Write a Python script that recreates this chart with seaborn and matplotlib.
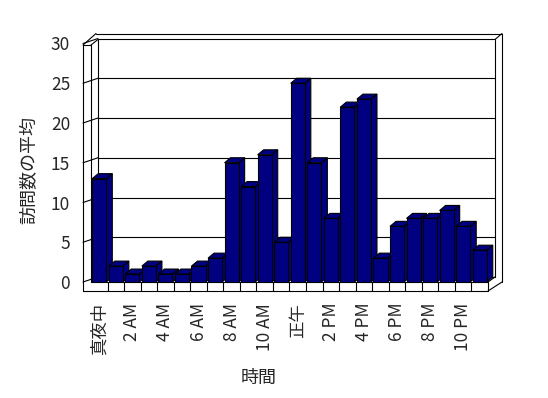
import numpy as np
import pandas as pd
import seaborn as sns
import matplotlib.pyplot as plt
from matplotlib.lines import Line2D
from matplotlib.patches import Polygon
from matplotlib.transforms import IdentityTransform

# 時間ごとの訪問数の平均
hours = ['真夜中', '1 AM', '2 AM', '3 AM', '4 AM', '5 AM', '6 AM', '7 AM',
         '8 AM', '9 AM', '10 AM', '11 AM', '正午', '1 PM', '2 PM', '3 PM',
         '4 PM', '5 PM', '6 PM', '7 PM', '8 PM', '9 PM', '10 PM', '11 PM']
visits = [13, 2, 1, 2, 1, 1, 2, 3, 15, 12, 16, 5,
          25, 15, 8, 22, 23, 3, 7, 8, 8, 9, 7, 4]
tick_labels = ['真夜中', '2 AM', '4 AM', '6 AM', '8 AM', '10 AM',
               '正午', '2 PM', '4 PM', '6 PM', '8 PM', '10 PM']
y_ticks = [0, 5, 10, 15, 20, 25, 30]

df = pd.DataFrame({'時間': hours, '訪問数の平均': visits})

sns.set_style('white')
plt.rcParams['font.family'] = ['Noto Sans CJK JP', 'DejaVu Sans']

W, H = 548, 398
fig = plt.figure(figsize=(W / 100, H / 100), dpi=100)
fig.patch.set_facecolor('white')
# front plane of the chart (pixels from top-left: x 91..488, y 43.5..282)
ax = fig.add_axes([91 / W, (H - 282) / H, 397 / W, 238.5 / H])
ax.set_facecolor('none')

navy = '#000080'
lw = 0.8

sns.barplot(data=df, x='時間', y='訪問数の平均', color=navy, saturation=1,
            width=0.85, edgecolor='black', linewidth=lw, ax=ax)

ax.set_xlim(-0.5, len(hours) - 0.5)
ax.set_ylim(0, 30)
for s in ax.spines.values():
    s.set_visible(False)

ax.set_xticks(range(0, len(hours), 2))
ax.set_xticklabels(tick_labels, rotation=90, fontsize=12.5)
ax.set_yticks(y_ticks)
ax.set_yticklabels([str(v) for v in y_ticks], fontsize=12.5)
ax.tick_params(axis='x', length=0, pad=15)
ax.tick_params(axis='y', length=0, pad=15)

ax.set_xlabel('時間', fontsize=13, va='center')
ax.set_ylabel('訪問数の平均', fontsize=13, va='center')
ax.xaxis.set_label_coords(0.423, -0.403)
ax.yaxis.set_label_coords(-0.154, 0.47)

# --- pseudo 3D box ---
ident = IdentityTransform()
L, Bd = ax.transAxes.transform((0, 0))
R, Td = ax.transAxes.transform((1, 1))


def seg(p0, p1, z=0.5):
    ax.add_line(Line2D([p0[0], p1[0]], [p0[1], p1[1]], color='black', lw=lw,
                       transform=ident, clip_on=False, zorder=z))


dx, dy = 7, 5      # depth of back wall
ox, oy = 13, 10    # outer slab
fl = 9             # floor thickness
wl = 8             # left wall thickness

# gridlines on the back wall
for v in y_ticks:
    yv = ax.transData.transform((0, v))[1]
    seg((L - wl, yv), (L + dx, yv + dy))
    seg((L + dx, yv + dy), (R + dx, yv + dy))

# left wall
seg((L - wl, Td - 1.5), (L - wl, Bd - fl))
seg((L - wl, Td - 1.5), (L, Td - 1.5))
seg((L, Td - 1.5), (L, Bd))
seg((L - wl, Td - 1.5), (L - wl + ox, Td + oy))
seg((L, Td - 1.5), (L + dx, Td + dy - 1))
seg((L + dx, Td + dy - 1), (L + dx, Bd + dy))

# top and right edges
seg((L - wl + ox, Td + oy), (R + ox + 1, Td + oy))
seg((R + dx, Td + dy - 1), (R + dx, Bd + dy))
seg((R + ox + 1, Td + oy), (R + ox + 1, Bd))
seg((R + dx, Td + dy - 1), (R + ox + 1, Td + oy))

# floor
seg((L - wl, Bd - fl), (R, Bd - fl))
seg((L, Bd), (R, Bd))
seg((R, Bd), (R, Bd - fl))
seg((R, Bd - fl), (R + ox + 1, Bd))
seg((R, Bd), (R + dx, Bd + dy))
for k in range(1, len(hours)):
    xk = ax.transData.transform((k - 0.5, 0))[0]
    seg((xk, Bd), (xk, Bd - fl))

# bar top and side faces
bx, by = 6, 5
for i, p in enumerate(ax.patches):
    x0, w, h = p.get_x(), p.get_width(), p.get_height()
    tl = ax.transData.transform((x0, h))
    tr = ax.transData.transform((x0 + w, h))
    br = ax.transData.transform((x0 + w, 0))
    z = 3 + i * 0.01
    top = Polygon([tl, tr, (tr[0] + bx, tr[1] + by), (tl[0] + bx, tl[1] + by)],
                  closed=True, facecolor=navy, edgecolor='black', lw=lw,
                  transform=ident, clip_on=False, zorder=z)
    side = Polygon([tr, br, (br[0] + bx, br[1] + by), (tr[0] + bx, tr[1] + by)],
                   closed=True, facecolor=navy, edgecolor='black', lw=lw,
                   transform=ident, clip_on=False, zorder=z)
    ax.add_patch(side)
    ax.add_patch(top)
    p.set_zorder(z + 0.005)

fig.savefig('out.png', dpi=100)
